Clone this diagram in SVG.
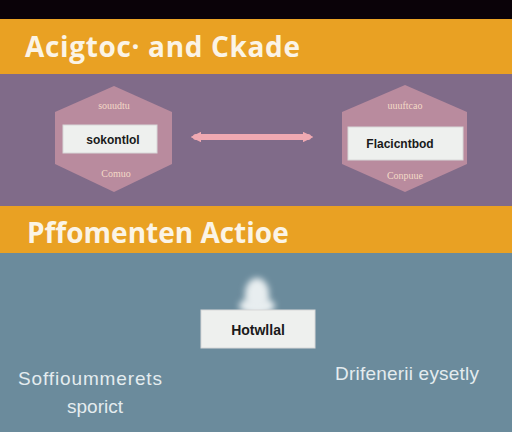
<svg xmlns="http://www.w3.org/2000/svg" width="512" height="432" viewBox="0 0 512 432">
<defs>
<style>
.band{fill:#e9a123}
.title{font-family:"Open Sans","Liberation Sans",sans-serif;font-weight:bold;font-size:28px;fill:#fbf4e6}
.hex{fill:#b98b9e}
.box{fill:#eef0ee;stroke:#d8d8d8;stroke-width:1}
.lbl{font-family:"Liberation Sans",sans-serif;font-size:12px;font-weight:bold;fill:#1a1a1a;text-anchor:middle}
.small{font-family:"Liberation Serif",serif;font-size:10px;fill:#f3d9c6;text-anchor:middle}
.foot{font-family:"Liberation Sans Narrow","Liberation Sans",sans-serif;font-size:19px;fill:#e4ecef;text-anchor:middle}
</style>
<marker id="ah" viewBox="0 0 6 6" refX="3" refY="3" markerWidth="1.8" markerHeight="1.8" orient="auto-start-reverse">
<path d="M0,0 L6,3 L0,6 z" fill="#f0a9b2"/>
</marker>
<filter id="blur" x="-50%" y="-50%" width="200%" height="200%"><feGaussianBlur stdDeviation="3"/></filter>
</defs>
<rect x="0" y="0" width="512" height="432" fill="#6b8b9c"/>
<rect x="0" y="0" width="512" height="19" fill="#0a0208"/>
<rect class="band" x="0" y="19" width="512" height="55"/>
<rect x="0" y="74" width="512" height="133" fill="#806b89"/>
<rect class="band" x="0" y="206" width="512" height="47"/>
<text class="title" x="25" y="57" textLength="275">Acigtoc· and Ckade</text>
<text class="title" x="27" y="243">Pffomenten Actioe</text>
<g id="connectors">
<line x1="196" y1="137" x2="308" y2="137" stroke="#f0a9b2" stroke-width="6" stroke-linecap="round" marker-start="url(#ah)" marker-end="url(#ah)"/>
</g>
<g id="node-left">
<polygon class="hex" points="114,86 172,112 172,164 114,192 55,164 55,112"/>
<text class="small" x="114" y="109">souudtu</text>
<rect class="box" x="63" y="125" width="94" height="28"/>
<text class="lbl" x="113" y="144">sokontlol</text>
<text class="small" x="116" y="177">Comuo</text>
</g>
<g id="node-right">
<polygon class="hex" points="405,85 467,112 467,164 405,192 342,164 342,112"/>
<text class="small" x="405" y="109">uuuftcao</text>
<rect class="box" x="348" y="127" width="115" height="33"/>
<text class="lbl" x="400" y="148">Flacicntbod</text>
<text class="small" x="405" y="179">Conpuue</text>
</g>
<g id="node-center">
<ellipse cx="257" cy="294" rx="12" ry="16" fill="#e8eef0" filter="url(#blur)"/>
<ellipse cx="257" cy="306" rx="18" ry="8" fill="#e8eef0" filter="url(#blur)"/>
<rect class="box" x="201" y="310" width="114" height="38"/>
<text class="lbl" x="258" y="335" style="font-size:14px">Hotwllal</text>
</g>
<g id="text-left">
<text class="foot" x="90" y="385" textLength="144">Soffioummerets</text>
<text class="foot" x="95" y="413">sporict</text>
</g>
<g id="text-right">
<text class="foot" x="407" y="380" textLength="144">Drifenerii eysetly</text>
</g>
</svg>
